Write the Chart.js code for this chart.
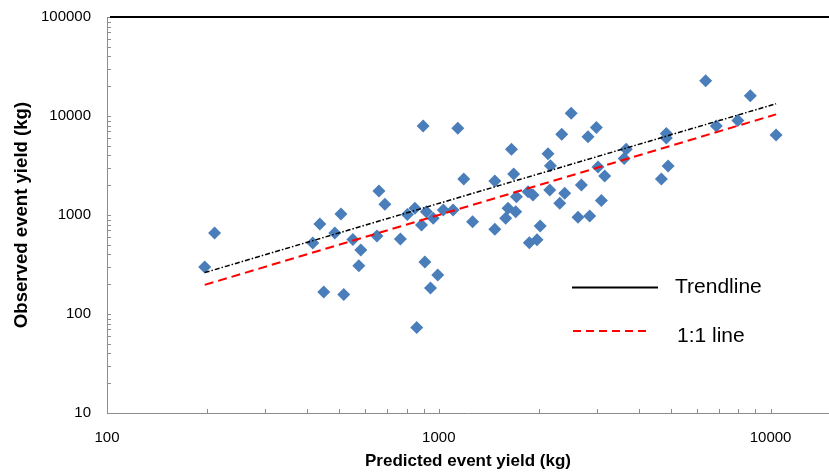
<!DOCTYPE html>
<html>
<head>
<meta charset="utf-8">
<script src="https://cdn.jsdelivr.net/npm/chart.js@4/dist/chart.umd.min.js"></script>
<style>
  html, body { margin: 0; padding: 0; background: #ffffff; }
  #wrap { width: 829px; height: 473px; }
</style>
</head>
<body>
<div id="wrap"><canvas id="c" width="829" height="473"></canvas></div>
<script>
// ---- Data ----
const predicted = [197, 211, 417, 438, 450, 486, 507, 517, 551, 582, 574, 660, 688, 651, 766, 804, 847, 917, 887, 962,
  1032, 1104, 1189, 1264, 908, 993, 944, 858, 897, 1141, 1656, 1682, 1475, 1617, 1591, 1705, 1714, 1475, 1858, 1923,
  2160, 2396, 2315, 2690, 3091, 2628, 2850, 2021, 1874, 1977, 2506, 2347, 2985, 2817, 2134, 2170, 3019, 3162, 3671, 3620,
  4851, 4851, 4912, 4686, 6373, 8688, 7969, 6863, 10390];
const observed = [298, 658, 521, 811, 167, 658, 1023, 157, 566, 443, 307, 1746, 1283, 614, 572, 1012, 1169, 1080, 793, 926,
  1123, 1123, 2310, 855, 335, 248, 183, 73, 7925, 7510, 4611, 2595, 2205, 1169, 926, 1080, 1531, 717, 1720, 1592,
  1789, 1656, 1313, 2009, 1400, 948, 977, 774, 525, 563, 10650, 6535, 7650, 6180, 4150, 3150, 3053, 2477, 4611, 3722,
  6657, 5995, 3126, 2310, 22730, 16030, 9006, 7925, 6431];
const trendX = [197, 10390];
const trendY = [262, 13300];
const oneToOneX = [197, 10390];
const oneToOneY = [197, 10390];
const xTickLabels = [100, 1000, 10000];
const yTickLabels = [10, 100, 1000, 10000, 100000];
const xTitle = 'Predicted event yield (kg)';
const yTitle = 'Observed event yield (kg)';
const legendLabels = ['Trendline', '1:1 line'];

// ---- Build ----
const scatterPts = predicted.map((x, i) => ({x: x, y: observed[i]}));
const trendPts = trendX.map((x, i) => ({x: x, y: trendY[i]}));
const onePts = oneToOneX.map((x, i) => ({x: x, y: oneToOneY[i]}));

function minorValues(min, max) {
  const out = [];
  for (let d = Math.pow(10, Math.floor(Math.log10(min))); d <= max; d *= 10) {
    for (let k = 2; k <= 9; k++) {
      const v = k * d;
      if (v > min && v < max) out.push(v);
    }
  }
  return out;
}

const decor = {
  id: 'decor',
  afterDraw(chart) {
    const {ctx, chartArea: ca, scales} = chart;
    const xs = scales.x, ys = scales.y;
    ctx.save();
    // inner tick marks (major + minor)
    ctx.strokeStyle = '#8c8c8c';
    ctx.lineWidth = 1;
    ctx.beginPath();
    const yTicks = minorValues(ys.min, ys.max).concat(yTickLabels);
    yTicks.forEach(v => {
      const py = Math.round(ys.getPixelForValue(v)) + 0.5;
      ctx.moveTo(ca.left, py); ctx.lineTo(ca.left + 4, py);
    });
    const xTicks = minorValues(xs.min, xs.max).concat(xTickLabels);
    xTicks.forEach(v => {
      const px = Math.round(xs.getPixelForValue(v)) + 0.5;
      ctx.moveTo(px, ca.bottom); ctx.lineTo(px, ca.bottom - 4);
    });
    ctx.stroke();
    // top border
    ctx.strokeStyle = '#000000';
    ctx.lineWidth = 2;
    ctx.beginPath();
    ctx.moveTo(ca.left + 3, ca.top);
    ctx.lineTo(ca.right, ca.top);
    ctx.stroke();
    // legend
    ctx.lineWidth = 2;
    ctx.strokeStyle = '#000000';
    ctx.setLineDash([]);
    ctx.beginPath();
    ctx.moveTo(572, 287.5); ctx.lineTo(658, 287.5);
    ctx.stroke();
    ctx.strokeStyle = '#ff0000';
    ctx.setLineDash([8, 5]);
    ctx.beginPath();
    ctx.moveTo(573, 331); ctx.lineTo(650, 331);
    ctx.stroke();
    ctx.setLineDash([]);
    ctx.fillStyle = '#000000';
    ctx.font = '21px "Liberation Sans", Arial, sans-serif';
    ctx.textAlign = 'left';
    ctx.textBaseline = 'alphabetic';
    ctx.fillText(legendLabels[0], 675, 293);
    ctx.fillText(legendLabels[1], 677, 341.5);
    ctx.restore();
  }
};

Chart.defaults.font.family = '"Liberation Sans", Arial, sans-serif';
Chart.defaults.color = '#000000';

new Chart(document.getElementById('c'), {
  type: 'scatter',
  data: {
    datasets: [
      { label: 'Trendline', data: trendPts, showLine: true, borderColor: '#000000', borderWidth: 1.5,
        borderDash: [5, 2, 1.5, 2], pointRadius: 0, order: 0 },
      { label: '1:1 line', data: onePts, showLine: true, borderColor: '#ff0000', borderWidth: 2,
        borderDash: [9, 5], pointRadius: 0, order: 1 },
      { label: 'Events', data: scatterPts, pointStyle: 'rectRot', pointRadius: 6.5, pointHoverRadius: 6.5,
        backgroundColor: '#4a7ebb', borderColor: '#4a7ebb', borderWidth: 0, order: 2 }
    ]
  },
  options: {
    responsive: false,
    animation: false,
    devicePixelRatio: 1,
    layout: { autoPadding: false, padding: { top: 17, right: 0, left: 0, bottom: 0 } },
    plugins: { legend: { display: false }, tooltip: { enabled: false } },
    scales: {
      x: {
        type: 'logarithmic', min: 100, max: 15000,
        afterBuildTicks(scale) { scale.ticks = xTickLabels.map(v => ({value: v})); },
        afterFit(scale) { scale.height = 60; scale.paddingLeft = 0; scale.paddingRight = 0; },
        ticks: { autoSkip: false, maxRotation: 0, padding: 16, font: { size: 15 }, color: '#000000', callback: v => String(v) },
        grid: { display: false, drawTicks: false },
        border: { display: true, color: '#8c8c8c', width: 1 },
        title: { display: true, text: xTitle, font: { size: 17, weight: 'bold' }, color: '#000000', padding: { top: 0, bottom: 1 } }
      },
      y: {
        type: 'logarithmic', min: 10, max: 100000,
        afterBuildTicks(scale) { scale.ticks = yTickLabels.map(v => ({value: v})); },
        afterFit(scale) { scale.width = 107; scale.paddingTop = 0; scale.paddingBottom = 0; },
        ticks: { autoSkip: false, padding: 16, font: { size: 15 }, color: '#000000', callback: v => String(v) },
        grid: { display: false, drawTicks: false },
        border: { display: true, color: '#8c8c8c', width: 1 },
        title: { display: true, text: yTitle, font: { size: 18.6, weight: 'bold' }, color: '#000000', padding: { top: 11, bottom: 0 } }
      }
    }
  },
  plugins: [decor]
});
</script>
</body>
</html>
